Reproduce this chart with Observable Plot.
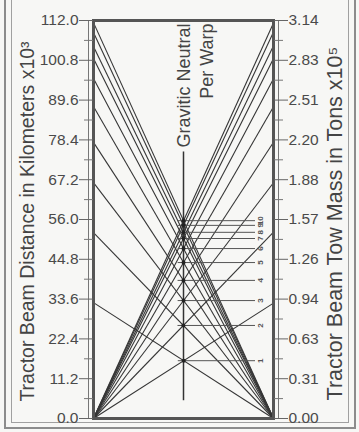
<!DOCTYPE html>
<html><head><meta charset="utf-8">
<script src="https://cdn.jsdelivr.net/npm/d3@7"></script>
<script src="https://cdn.jsdelivr.net/npm/@observablehq/plot@0.6"></script>
<style>
html,body{margin:0;padding:0;background:#f7f7f5;}
#wrap{position:relative;width:359px;height:432px;overflow:hidden;}
.b1{position:absolute;left:4px;top:-10px;width:352px;height:439px;border:2px solid #8c8c8c;box-sizing:border-box;}
.b2{position:absolute;left:11px;top:-10px;width:338px;height:433px;border:1px solid #a0a0a0;box-sizing:border-box;}
#chart{position:absolute;left:0;top:0;}
</style></head><body><div id="wrap"><div class="b1"></div><div class="b2"></div><div id="chart"></div></div>
<script>
// Left-axis start of each descending line (Tractor Beam Distance, km x10^3)
const distanceStart = [32.6, 52.3, 66.4, 77.7, 87.8, 95.7, 101.3, 104.7, 108.6, 111.4];
// Right-axis end of each ascending line (Tractor Beam Tow Mass, tons x10^5)
const towMassEnd = [0.91, 1.47, 1.86, 2.18, 2.46, 2.68, 2.84, 2.94, 3.05, 3.12];
// Warp labels on the horizontal lines (bottom to top)
const warpLabels = ["1", "2", "3", "4", "5", "6", "7", "8", "9", "10"];
// Axis ticks
const leftTicks = [0, 11.2, 22.4, 33.6, 44.8, 56, 67.2, 78.4, 89.6, 100.8, 112];
const leftMinor = [5.6, 16.8, 28, 39.2, 50.4, 61.6, 72.8, 84, 95.2, 106.4];
const rightTickLabels = ["0.00", "0.31", "0.63", "0.94", "1.26", "1.57", "1.88", "2.20", "2.51", "2.83", "3.14"];
const distanceMax = 112, massMax = 3.14;
const neutralRange = [5, 75];

const toY = m => m / massMax * distanceMax; // tow-mass axis expressed on the distance scale
const descending = distanceStart.map(d => ({x1: 0, y1: d, x2: 1, y2: 0}));
const ascending = towMassEnd.map(m => ({x1: 0, y1: 0, x2: 1, y2: toY(m)}));
const crossings = distanceStart.map((d, i) => {
  const r = toY(towMassEnd[i]);
  const x = d / (d + r);
  return {x, y: d * (1 - x), label: warpLabels[i]};
});

const ink = "#363636";
const chart = Plot.plot({
  width: 359, height: 432,
  marginLeft: 93, marginRight: 86, marginTop: 20, marginBottom: 14,
  style: {fontFamily: "'Liberation Sans', Arial, sans-serif", fontSize: "15.5px", color: "#4a4a4a", background: "transparent"},
  x: {domain: [0, 1], axis: null},
  y: {domain: [0, distanceMax], axis: null},
  marks: [
    Plot.link(descending, {x1: "x1", y1: "y1", x2: "x2", y2: "y2", stroke: ink, strokeWidth: 1.1}),
    Plot.link(ascending, {x1: "x1", y1: "y1", x2: "x2", y2: "y2", stroke: ink, strokeWidth: 1.1}),
    Plot.ruleX([0.5], {y1: neutralRange[0], y2: neutralRange[1], stroke: "#333", strokeWidth: 1.5}),
    Plot.ruleY(crossings, {x1: d => d.x - 0.03, x2: 0.9, y: "y", stroke: "#555", strokeWidth: 1}),
    Plot.dot(crossings, {x: "x", y: "y", r: 2, fill: "#222"}),
    Plot.text(crossings, {x: 0.93, y: "y", text: "label", rotate: -90, fontSize: 8, fontWeight: "bold", fill: "#555"}),
    Plot.frame({stroke: "#555", strokeWidth: 3}),
    Plot.ruleX([0], {dx: -5, stroke: "#777"}),
    Plot.ruleX([1], {dx: 5, stroke: "#777"}),
    Plot.axisY(leftTicks, {anchor: "left", tickSize: 14, tickPadding: 1, fontSize: 15.5, stroke: "#666", fill: "#4a4a4a", tickFormat: d => d.toFixed(1), label: null}),
    Plot.axisY(leftMinor, {anchor: "left", tickSize: 9, stroke: "#777", tickFormat: () => "", label: null}),
    Plot.axisY(leftTicks, {anchor: "right", tickSize: 14, tickPadding: 1, fontSize: 15.5, stroke: "#666", fill: "#4a4a4a", tickFormat: d => rightTickLabels[leftTicks.indexOf(d)], label: null}),
    Plot.axisY(leftMinor, {anchor: "right", tickSize: 9, stroke: "#777", tickFormat: () => "", label: null}),
    Plot.text(["Tractor Beam Distance in Kilometers x10³"], {frameAnchor: "left", textAnchor: "middle", lineAnchor: "middle", rotate: -90, dx: -66, dy: 2, fontSize: 19.5, fill: "#444"}),
    Plot.text(["Tractor Beam Tow Mass in Tons x10⁵"], {frameAnchor: "right", textAnchor: "middle", lineAnchor: "middle", rotate: -90, dx: 62, dy: 4, fontSize: 21.5, fill: "#444"}),
    Plot.text(["Gravitic Neutral"], {frameAnchor: "top", rotate: -90, textAnchor: "end", lineAnchor: "middle", dx: 1, dy: 3, fontSize: 18, fill: "#444"}),
    Plot.text(["Per Warp"], {frameAnchor: "top", rotate: -90, textAnchor: "end", lineAnchor: "middle", dx: 24, dy: 3, fontSize: 18, fill: "#444"})
  ]
});
document.getElementById("chart").appendChild(chart);
</script>
</body></html>
